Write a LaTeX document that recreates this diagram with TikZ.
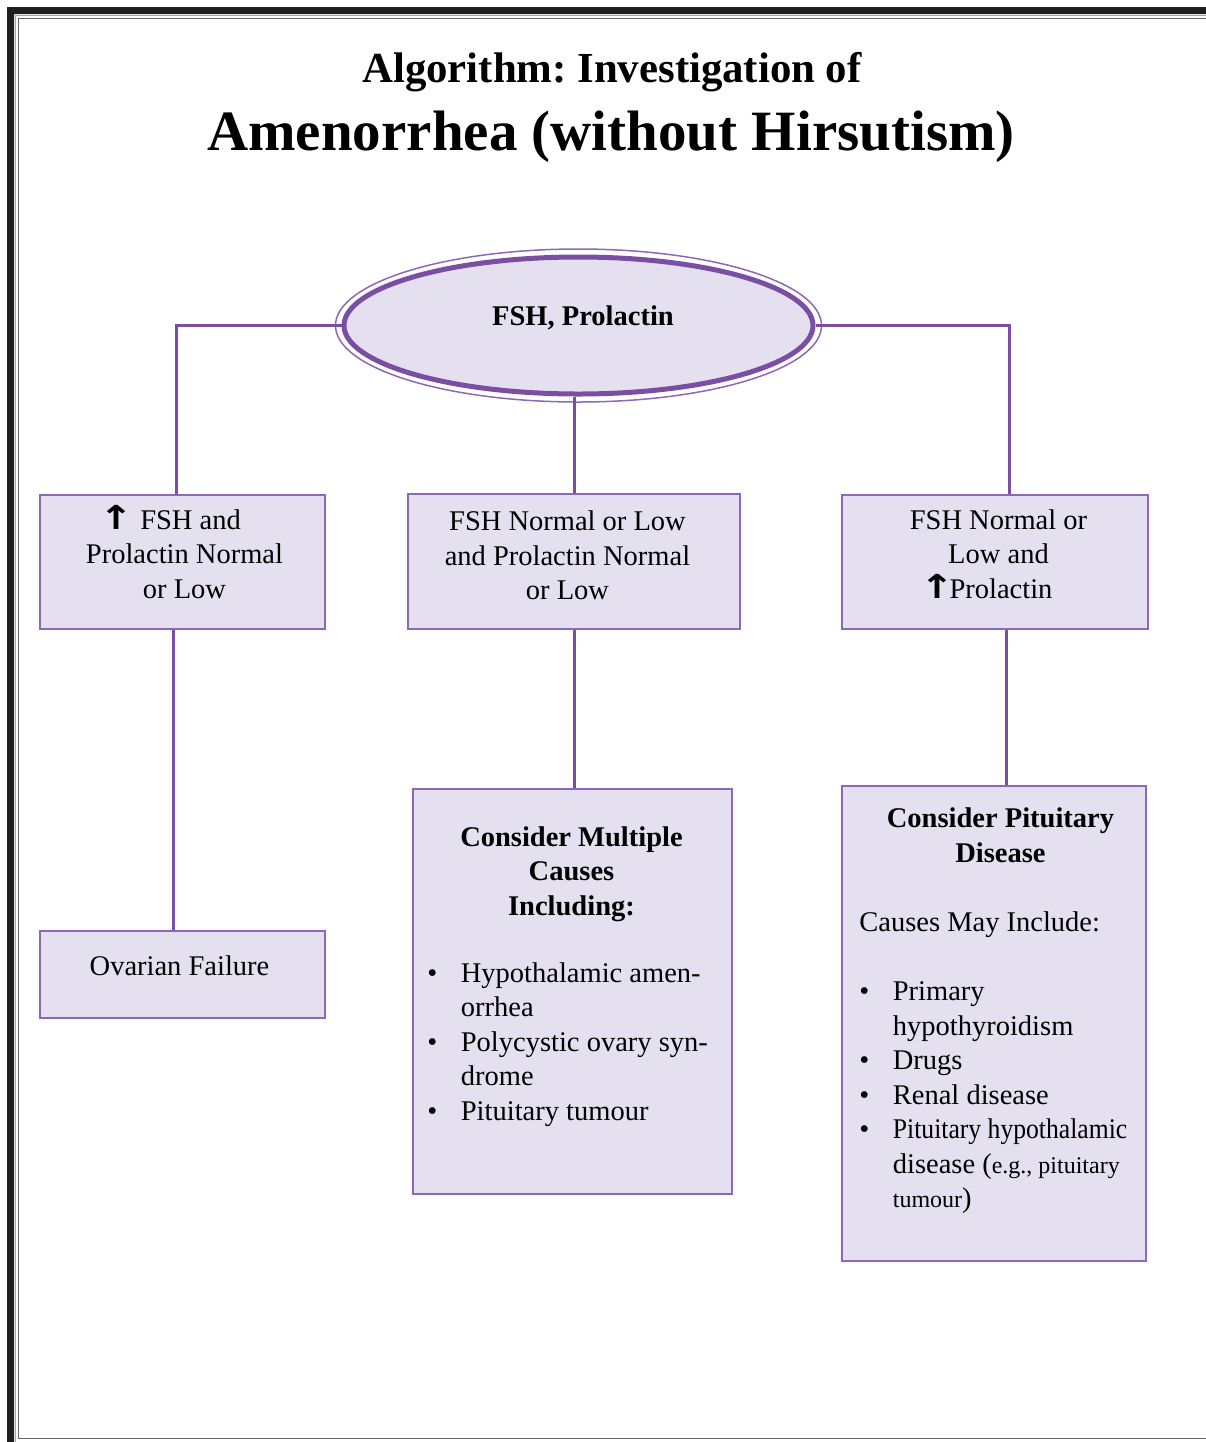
\documentclass[tikz,border=0pt]{standalone}
\usepackage{fontspec}
\setmainfont{Liberation Serif}
\newfontfamily\arrowfont{DejaVu Sans}
\usepackage{graphicx}
\usetikzlibrary{shapes.geometric}

\definecolor{boxfill}{HTML}{E4E0EF}
\definecolor{boxline}{HTML}{8C68B5}
\definecolor{linkpurple}{HTML}{7A4EA3}

\newcommand{\uparr}{\scalebox{1.35}[1.1]{\arrowfont\bfseries\fontsize{15}{17.25}\selectfont ↑}}
\newcommand{\bul}{\makebox[16.75pt][l]{•}}
\newcommand{\hang}{\hspace*{16.75pt}}

\begin{document}
\frenchspacing
\begin{tikzpicture}[x=0.5pt,y=-0.5pt]
        \useasboundingbox (0,0) rectangle (1206,1442);
        % page frame
        \fill[black!88] (7,1442) -- (7,7) -- (1206,7) -- (1206,14) -- (14,14) -- (14,1442) -- cycle;
        \draw[black!35,line width=0.5pt] (1206,15.7) -- (15.7,15.7) -- (15.7,1442);
        \draw[black!60,line width=0.75pt] (1206,18.5) -- (18.5,18.5) -- (18.5,1438.5) -- (1206,1438.5);

        \begin{scope}[every node/.style={draw=boxline,fill=boxfill,line width=0.75pt,inner sep=0pt}]
        \node[ellipse,draw=linkpurple,line width=2.5pt,minimum width=234.5pt,minimum height=68.5pt] (fshprl) at (578.5,325.5) {};
        \node[minimum width=142.5pt,minimum height=67pt] (hiFSH) at (182.5,562) {};
        \node[minimum width=166pt,minimum height=67.5pt] (normFSH) at (574,561.5) {};
        \node[minimum width=153pt,minimum height=67pt] (hiPRL) at (995,562) {};
        \node[minimum width=142.5pt,minimum height=43.5pt] (ovfail) at (182.5,974.5) {};
        \node[minimum width=159.5pt,minimum height=202.5pt] (multi) at (572.5,991.5) {};
        \node[minimum width=152pt,minimum height=237.5pt] (pitdis) at (994,1023.5) {};
        \end{scope}
        \draw[boxline,line width=0.75pt] (fshprl.center) ellipse [x radius=121.5pt,y radius=38.25pt];

        \begin{scope}[every edge/.style={draw=linkpurple,line width=1.5pt}]
        \path (fshprl.west) edge[to path={-| (\tikztotarget)}] ([xshift=-3.25pt]hiFSH.north);
        \path (fshprl.east) edge[to path={-| (\tikztotarget)}] ([xshift=7pt]hiPRL.north);
        \path (normFSH.north) edge (normFSH.north |- fshprl.south);
        \path ([xshift=-4.75pt]hiFSH.south) edge ([xshift=-4.75pt]ovfail.north);
        \path (normFSH.south) edge (normFSH.south |- multi.north);
        \path ([xshift=5.5pt]hiPRL.south) edge ([xshift=5.5pt]hiPRL.south |- pitdis.north);
        \end{scope}

        % texts, placed by the baseline of their last line
        \begin{scope}[every node/.style={font=\fontsize{14.25}{17.25}\selectfont,inner sep=0pt,align=center,anchor=base}]
        \node (title1) at (612,82) {\fontsize{21.4}{24}\selectfont\bfseries Algorithm: Investigation of};
        \node (title2) at (611,150) {\fontsize{28.5}{32}\selectfont\bfseries Amenorrhea (without Hirsutism)};
        \node (fshprltxt) at (583,325) {\bfseries FSH, Prolactin};
        \node (hiFSHtxt) at (184.5,598) {\uparr\ FSH and\hspace*{14.5pt}\\Prolactin Normal\\or Low};
        \node (normFSHtxt) at (567.5,599.5) {FSH Normal or Low\\and Prolactin Normal\\or Low};
        \node (hiPRLtxt) at (998.5,598.3) {FSH Normal or\\Low and\\\uparr\hspace{-2.5pt}Prolactin\hspace*{12pt}};
        \node (ovfailtxt) at (179.5,975) {Ovarian Failure};
        \node (multihead) at (571.5,915) {\bfseries Consider Multiple\\\bfseries Causes\\\bfseries Including:};
        \node[anchor=base west,align=left] (multilist) at (427,1120) {\bul Hypothalamic amen-\\\hang orrhea\\\bul Polycystic ovary syn-\\\hang drome\\\bul Pituitary tumour};
        \node (pithead) at (1000.5,862.3) {\bfseries Consider Pituitary\\\bfseries Disease};
        \node[anchor=base west,align=left] (pitlist) at (859,1207.7) {Causes May Include:\\[17.25pt]\bul Primary\\\hang hypothyroidism\\\bul Drugs\\\bul Renal disease\\\bul \scalebox{0.9}[1]{Pituitary hypothalamic}\\\hang disease ({\fontsize{12}{17.25}\selectfont e.g., pituitary}\\\hang{\fontsize{12}{17.25}\selectfont tumour})};
        \end{scope}
\end{tikzpicture}
\end{document}
